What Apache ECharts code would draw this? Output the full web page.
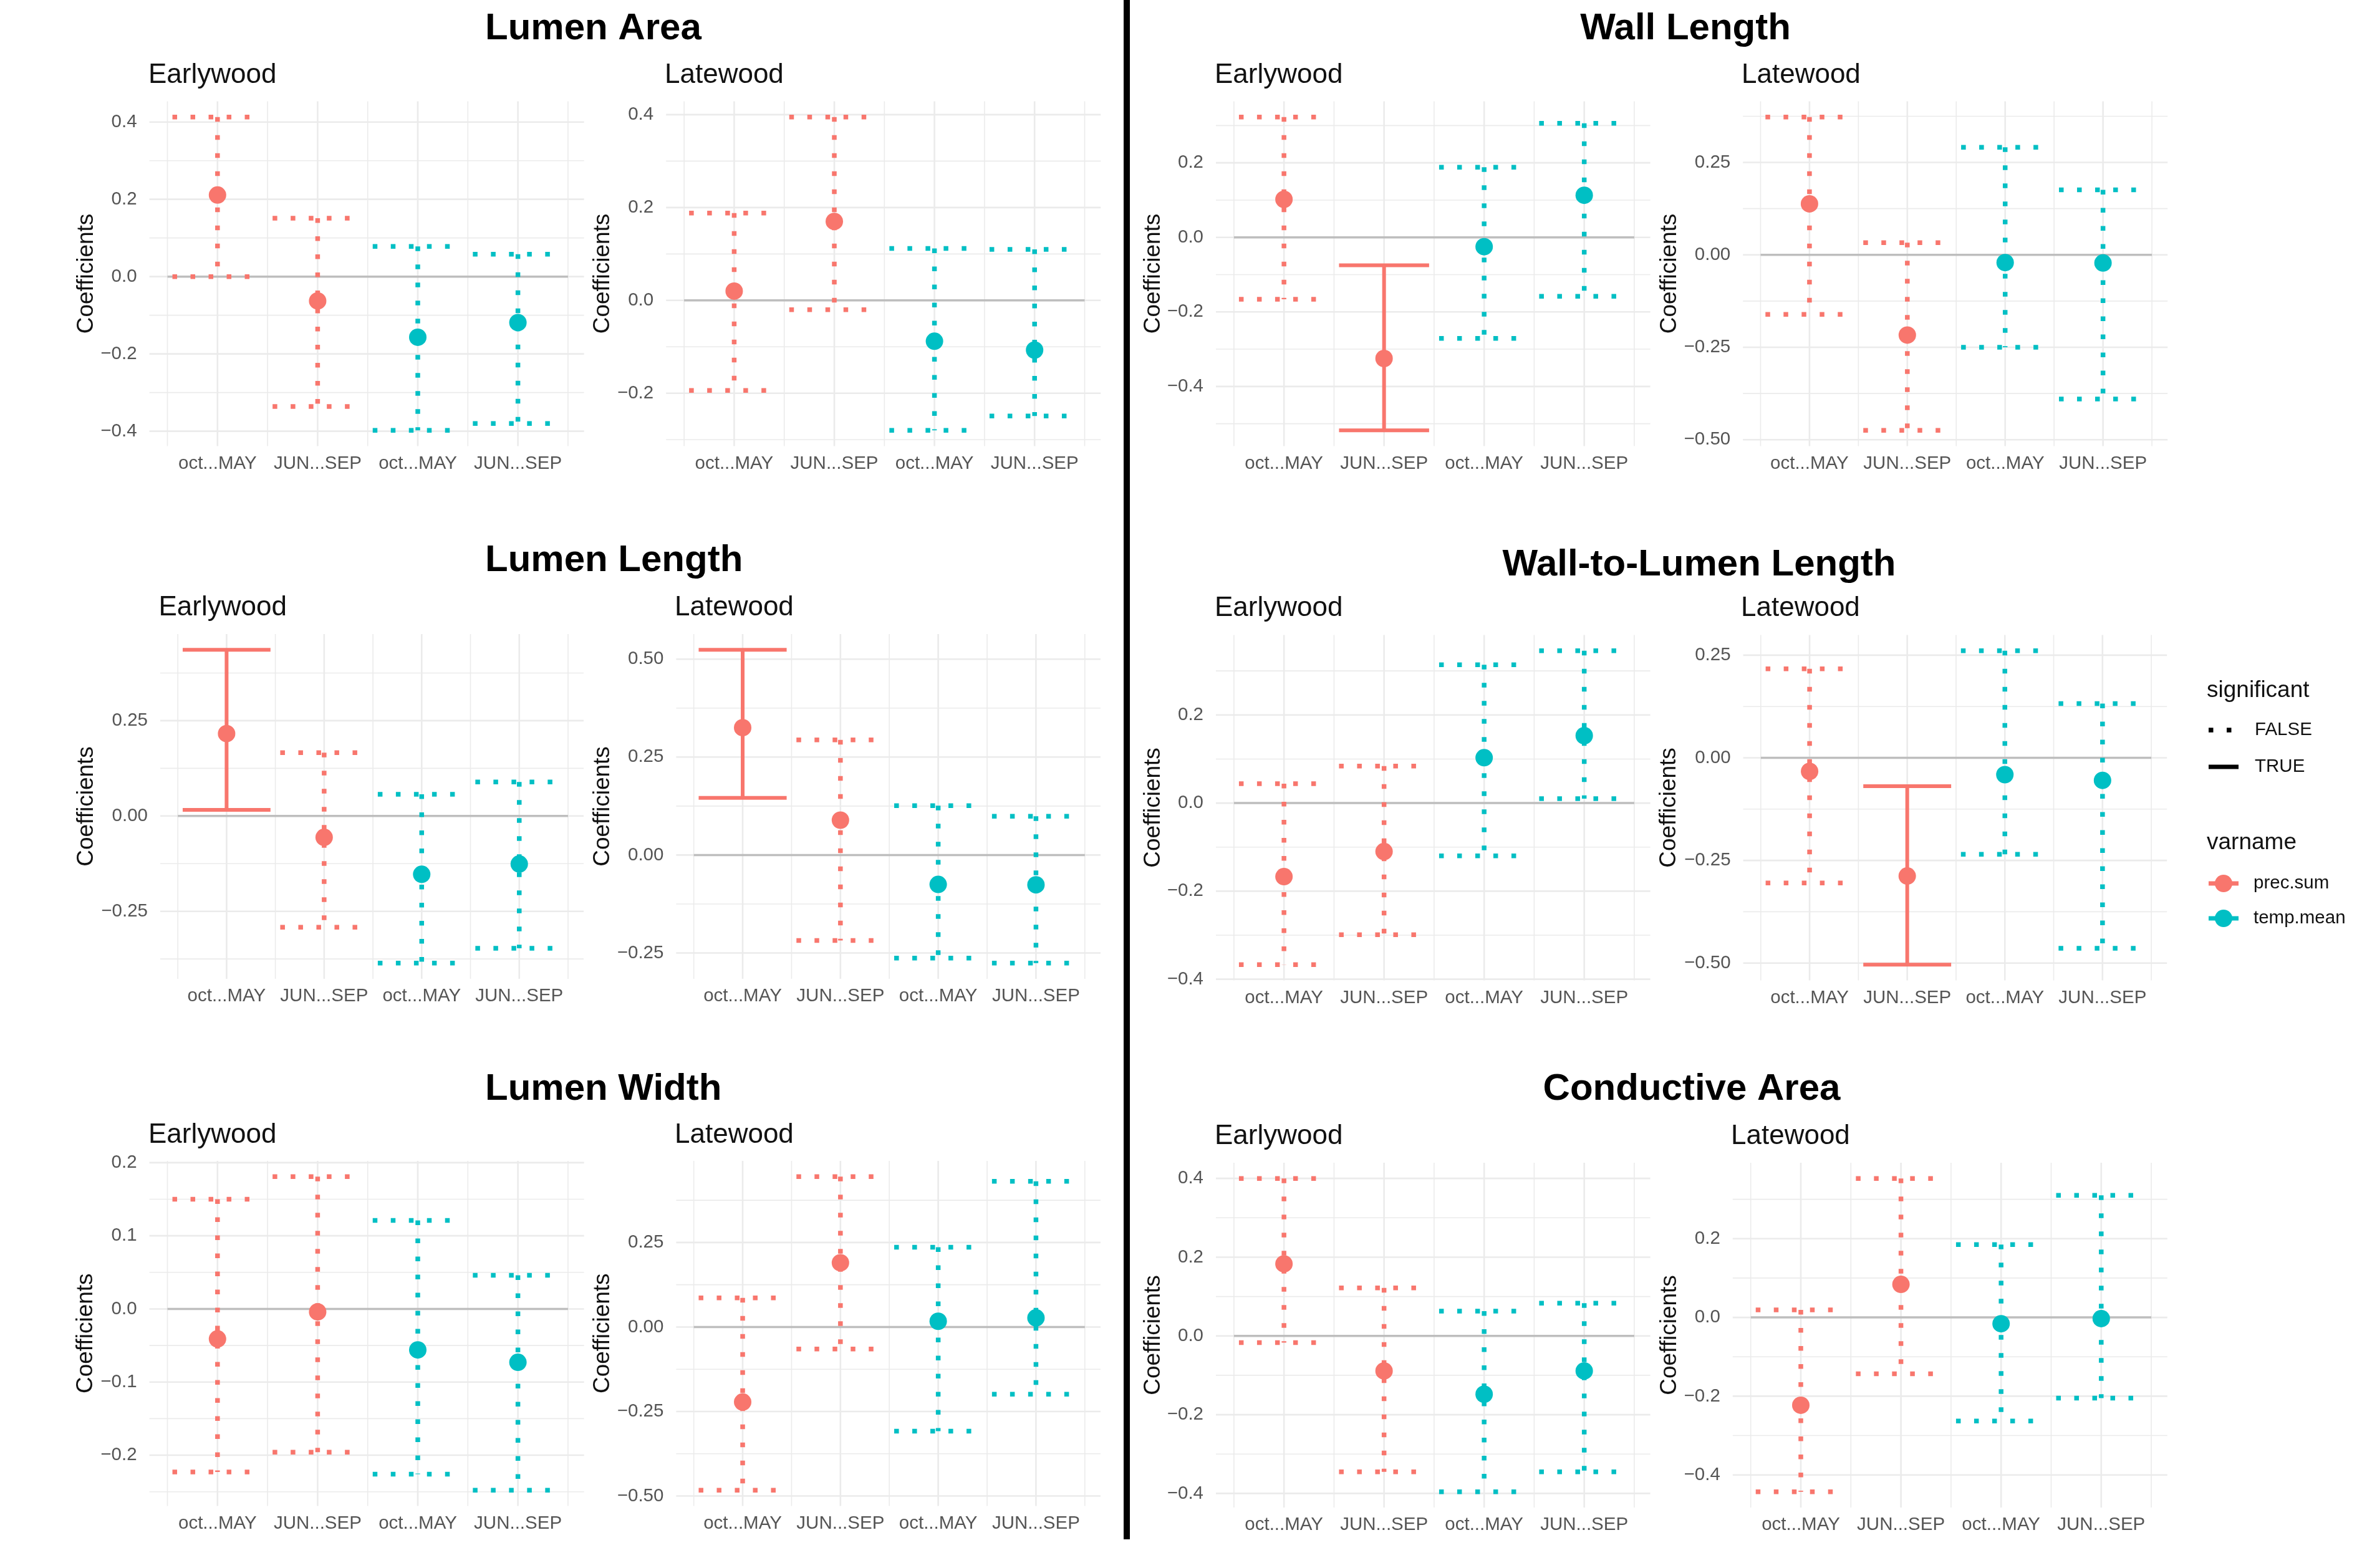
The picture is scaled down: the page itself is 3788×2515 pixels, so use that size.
<!DOCTYPE html>
<html>
<head>
<meta charset="utf-8">
<title>Climate coefficients</title>
<script src="https://cdn.jsdelivr.net/npm/echarts@6.0.0/dist/echarts.min.js"></script>
<style>
  html, body { margin: 0; padding: 0; background: #fff; }
  #main { width: 3788px; height: 2515px; }
</style>
</head>
<body>
<div id="main"></div>
<script>
// categories
const periods = ['oct...MAY', 'JUN...SEP', 'oct...MAY', 'JUN...SEP'];
const varname = ['prec.sum', 'prec.sum', 'temp.mean', 'temp.mean'];
const xPos = [1, 2, 3, 4];

// Lumen Area
const lumenAreaEW_est = [0.211, -0.063, -0.157, -0.119];
const lumenAreaEW_lo = [0.000, -0.336, -0.398, -0.380];
const lumenAreaEW_hi = [0.413, 0.151, 0.078, 0.058];
const lumenAreaEW_sig = [0, 0, 0, 0];
const lumenAreaEW_ticks = [-0.4, -0.2, 0, 0.2, 0.4];

const lumenAreaLW_est = [0.020, 0.170, -0.088, -0.107];
const lumenAreaLW_lo = [-0.194, -0.020, -0.280, -0.249];
const lumenAreaLW_hi = [0.188, 0.395, 0.112, 0.110];
const lumenAreaLW_sig = [0, 0, 0, 0];
const lumenAreaLW_ticks = [-0.2, 0, 0.2, 0.4];

// Wall Length
const wallLengthEW_est = [0.102, -0.325, -0.025, 0.113];
const wallLengthEW_lo = [-0.166, -0.518, -0.271, -0.158];
const wallLengthEW_hi = [0.323, -0.075, 0.188, 0.306];
const wallLengthEW_sig = [0, 1, 0, 0];
const wallLengthEW_ticks = [-0.4, -0.2, 0, 0.2];

const wallLengthLW_est = [0.138, -0.217, -0.021, -0.022];
const wallLengthLW_lo = [-0.161, -0.475, -0.250, -0.390];
const wallLengthLW_hi = [0.373, 0.033, 0.291, 0.176];
const wallLengthLW_sig = [0, 0, 0, 0];
const wallLengthLW_ticks = [-0.5, -0.25, 0, 0.25];

// Lumen Length
const lumenLengthEW_est = [0.216, -0.056, -0.153, -0.126];
const lumenLengthEW_lo = [0.016, -0.292, -0.386, -0.347];
const lumenLengthEW_hi = [0.436, 0.166, 0.057, 0.089];
const lumenLengthEW_sig = [1, 0, 0, 0];
const lumenLengthEW_ticks = [-0.25, 0, 0.25];

const lumenLengthLW_est = [0.325, 0.089, -0.075, -0.076];
const lumenLengthLW_lo = [0.146, -0.218, -0.263, -0.276];
const lumenLengthLW_hi = [0.524, 0.294, 0.126, 0.099];
const lumenLengthLW_sig = [1, 0, 0, 0];
const lumenLengthLW_ticks = [-0.25, 0, 0.25, 0.5];

// Wall-to-Lumen Length
const wallLumenEW_est = [-0.167, -0.110, 0.103, 0.153];
const wallLumenEW_lo = [-0.367, -0.299, -0.120, 0.010];
const wallLumenEW_hi = [0.044, 0.084, 0.314, 0.346];
const wallLumenEW_sig = [0, 0, 0, 0];
const wallLumenEW_ticks = [-0.4, -0.2, 0, 0.2];

const wallLumenLW_est = [-0.033, -0.288, -0.041, -0.055];
const wallLumenLW_lo = [-0.305, -0.504, -0.235, -0.464];
const wallLumenLW_hi = [0.217, -0.069, 0.261, 0.132];
const wallLumenLW_sig = [0, 1, 0, 0];
const wallLumenLW_ticks = [-0.5, -0.25, 0, 0.25];

// Lumen Width
const lumenWidthEW_est = [-0.041, -0.004, -0.056, -0.073];
const lumenWidthEW_lo = [-0.223, -0.196, -0.226, -0.248];
const lumenWidthEW_hi = [0.150, 0.181, 0.121, 0.046];
const lumenWidthEW_sig = [0, 0, 0, 0];
const lumenWidthEW_ticks = [-0.2, -0.1, 0, 0.1, 0.2];

const lumenWidthLW_est = [-0.222, 0.190, 0.017, 0.027];
const lumenWidthLW_lo = [-0.483, -0.065, -0.308, -0.199];
const lumenWidthLW_hi = [0.086, 0.445, 0.236, 0.431];
const lumenWidthLW_sig = [0, 0, 0, 0];
const lumenWidthLW_ticks = [-0.5, -0.25, 0, 0.25];

// Conductive Area
const condAreaEW_est = [0.183, -0.089, -0.148, -0.089];
const condAreaEW_lo = [-0.017, -0.345, -0.396, -0.345];
const condAreaEW_hi = [0.400, 0.122, 0.063, 0.083];
const condAreaEW_sig = [0, 0, 0, 0];
const condAreaEW_ticks = [-0.4, -0.2, 0, 0.2, 0.4];

const condAreaLW_est = [-0.223, 0.084, -0.016, -0.003];
const condAreaLW_lo = [-0.443, -0.143, -0.263, -0.205];
const condAreaLW_hi = [0.019, 0.353, 0.185, 0.310];
const condAreaLW_sig = [0, 0, 0, 0];
const condAreaLW_ticks = [-0.4, -0.2, 0, 0.2];

const groupTitles = ['Lumen Area', 'Wall Length', 'Lumen Length', 'Wall-to-Lumen Length', 'Lumen Width', 'Conductive Area'];

const panels = [
  { sub: 'Earlywood', est: lumenAreaEW_est, lo: lumenAreaEW_lo, hi: lumenAreaEW_hi, sig: lumenAreaEW_sig, ticks: lumenAreaEW_ticks },
  { sub: 'Latewood', est: lumenAreaLW_est, lo: lumenAreaLW_lo, hi: lumenAreaLW_hi, sig: lumenAreaLW_sig, ticks: lumenAreaLW_ticks },
  { sub: 'Earlywood', est: wallLengthEW_est, lo: wallLengthEW_lo, hi: wallLengthEW_hi, sig: wallLengthEW_sig, ticks: wallLengthEW_ticks },
  { sub: 'Latewood', est: wallLengthLW_est, lo: wallLengthLW_lo, hi: wallLengthLW_hi, sig: wallLengthLW_sig, ticks: wallLengthLW_ticks },
  { sub: 'Earlywood', est: lumenLengthEW_est, lo: lumenLengthEW_lo, hi: lumenLengthEW_hi, sig: lumenLengthEW_sig, ticks: lumenLengthEW_ticks },
  { sub: 'Latewood', est: lumenLengthLW_est, lo: lumenLengthLW_lo, hi: lumenLengthLW_hi, sig: lumenLengthLW_sig, ticks: lumenLengthLW_ticks },
  { sub: 'Earlywood', est: wallLumenEW_est, lo: wallLumenEW_lo, hi: wallLumenEW_hi, sig: wallLumenEW_sig, ticks: wallLumenEW_ticks },
  { sub: 'Latewood', est: wallLumenLW_est, lo: wallLumenLW_lo, hi: wallLumenLW_hi, sig: wallLumenLW_sig, ticks: wallLumenLW_ticks },
  { sub: 'Earlywood', est: lumenWidthEW_est, lo: lumenWidthEW_lo, hi: lumenWidthEW_hi, sig: lumenWidthEW_sig, ticks: lumenWidthEW_ticks },
  { sub: 'Latewood', est: lumenWidthLW_est, lo: lumenWidthLW_lo, hi: lumenWidthLW_hi, sig: lumenWidthLW_sig, ticks: lumenWidthLW_ticks },
  { sub: 'Earlywood', est: condAreaEW_est, lo: condAreaEW_lo, hi: condAreaEW_hi, sig: condAreaEW_sig, ticks: condAreaEW_ticks },
  { sub: 'Latewood', est: condAreaLW_est, lo: condAreaLW_lo, hi: condAreaLW_hi, sig: condAreaLW_sig, ticks: condAreaLW_ticks }
];

// layout: grid left, top, width, height, subtitle x, subtitle y, y-name x
const layout = [
  [239.6, 162.5, 697, 553, 238, 121, 139],
  [1068.2, 162.5, 697, 553, 1066, 121, 967],
  [1950, 162.5, 696.6, 553, 1948, 121, 1850],
  [2795.2, 162.5, 681, 553, 2793, 121, 2678],
  [257, 1017, 679, 553, 254.5, 975, 139],
  [1084.4, 1017, 680.5, 553, 1082, 975, 967],
  [1950, 1018.5, 696.6, 554, 1948, 976, 1850],
  [2795.6, 1018.5, 679.6, 554, 2792, 976, 2677],
  [239.6, 1862, 697, 553.5, 238, 1821, 138],
  [1084.4, 1862, 680.5, 553.5, 1082, 1821, 967],
  [1950, 1865, 696.6, 553, 1948, 1823, 1850],
  [2778.8, 1865, 697, 553, 2776, 1823, 2678]
];
// group title: x, y, align
const titleLayout = [
  [778, 46, 'left'], [2703, 46, 'center'],
  [778, 899, 'left'], [2725, 906, 'center'],
  [778, 1747, 'left'], [2713, 1747, 'center']
];

const FONT = "'Liberation Sans', Arial, Helvetica, sans-serif";
const COLORS = { 'prec.sum': '#F8766D', 'temp.mean': '#00BFC4' };
const X_MIN = 0.32, X_MAX = 4.66;
const CAP = 0.45;
const GRID_COL = '#EBEBEB';

function decimals(ticks) {
  return Math.max.apply(null, ticks.map(t => {
    const s = String(t);
    return s.indexOf('.') >= 0 ? s.split('.')[1].length : 0;
  }));
}
function fmt(v, d) {
  const s = Math.abs(v).toFixed(d);
  return (v < -1e-9 ? '\u2212' : '') + s;
}

function renderGridLine(params, api) {
  const cs = params.coordSys;
  const kind = api.value(0), v = api.value(1), major = api.value(2);
  let shape;
  if (kind === 0) {
    const y = api.coord([X_MIN, v])[1];
    shape = { x1: cs.x, y1: y, x2: cs.x + cs.width, y2: y };
  } else {
    const x = api.coord([v, 0])[0];
    shape = { x1: x, y1: cs.y, x2: x, y2: cs.y + cs.height };
  }
  return { type: 'line', shape: shape, silent: true,
    style: { stroke: GRID_COL, lineWidth: major ? 2.6 : 1.6 } };
}

function renderZero(params, api) {
  const a = api.coord([api.value(0), api.value(1)]);
  const b = api.coord([api.value(2), api.value(1)]);
  return { type: 'line', shape: { x1: a[0], y1: a[1], x2: b[0], y2: b[1] },
    style: { stroke: '#BEBEBE', lineWidth: 3.5 } };
}

const colorList = varname.map(v => COLORS[v]);
function renderErr(params, api) {
  const x = api.value(0), lo = api.value(1), hi = api.value(2);
  const sig = api.value(3), ci = api.value(4);
  const t1 = api.coord([x - CAP, hi]), t2 = api.coord([x + CAP, hi]);
  const v1 = api.coord([x, hi]), v2 = api.coord([x, lo]);
  const b1 = api.coord([x - CAP, lo]), b2 = api.coord([x + CAP, lo]);
  const style = { stroke: colorList[ci], lineWidth: sig ? 6 : 7.5, lineCap: 'butt',
    lineDash: sig ? null : [7.5, 21.5] };
  return { type: 'group', children: [
    { type: 'line', shape: { x1: t1[0], y1: t1[1], x2: t2[0], y2: t2[1] }, style: style },
    { type: 'line', shape: { x1: v1[0], y1: v1[1], x2: v2[0], y2: v2[1] }, style: style },
    { type: 'line', shape: { x1: b1[0], y1: b1[1], x2: b2[0], y2: b2[1] }, style: style }
  ] };
}

const option = {
  animation: false,
  backgroundColor: '#ffffff',
  textStyle: { fontFamily: FONT },
  grid: [], xAxis: [], yAxis: [], series: [], graphic: []
};

panels.forEach((p, i) => {
  const L = layout[i];
  const lowAll = Math.min.apply(null, p.lo.concat(p.est));
  const highAll = Math.max.apply(null, p.hi.concat(p.est));
  const pad = (highAll - lowAll) * 0.05;
  const yMin = lowAll - pad, yMax = highAll + pad;
  const dec = decimals(p.ticks);
  const step = p.ticks[1] - p.ticks[0];

  option.grid.push({ left: L[0], top: L[1], width: L[2], height: L[3],
    containLabel: false, outerBoundsMode: 'none' });
  option.xAxis.push({
    type: 'value', gridIndex: i, min: X_MIN, max: X_MAX,
    axisLine: { show: false }, axisTick: { show: false }, splitLine: { show: false },
    axisLabel: { customValues: xPos, formatter: v => periods[Math.round(v) - 1],
      fontSize: 29.5, color: '#555555', margin: 13, fontFamily: FONT }
  });
  option.yAxis.push({
    type: 'value', gridIndex: i, min: yMin, max: yMax,
    axisLine: { show: false }, axisTick: { show: false }, splitLine: { show: false },
    axisLabel: { customValues: p.ticks, formatter: v => fmt(v, dec),
      fontSize: 29.5, color: '#555555', margin: 20, fontFamily: FONT }
  });

  // background grid lines (major at breaks, minor half-way)
  const lines = [];
  p.ticks.forEach(t => lines.push([0, t, 1]));
  for (let k = -1; k < p.ticks.length; k++) {
    const m = p.ticks[0] + (k + 0.5) * step;
    if (m > yMin && m < yMax) lines.push([0, m, 0]);
  }
  xPos.forEach(x => lines.push([1, x, 1]));
  for (let k = 0; k <= xPos.length; k++) lines.push([1, k + 0.5, 0]);
  option.series.push({ type: 'custom', xAxisIndex: i, yAxisIndex: i, z: 1, silent: true,
    renderItem: renderGridLine, data: lines });

  option.series.push({ type: 'custom', xAxisIndex: i, yAxisIndex: i, z: 2, silent: true,
    renderItem: renderZero, data: [[0.5, 0, 4.5]] });

  option.series.push({ type: 'custom', xAxisIndex: i, yAxisIndex: i, z: 3, silent: true,
    renderItem: renderErr,
    data: xPos.map((x, k) => [x, p.lo[k], p.hi[k], p.sig[k], k]) });

  option.series.push({ type: 'scatter', xAxisIndex: i, yAxisIndex: i, z: 4, silent: true,
    symbol: 'circle', symbolSize: 28,
    data: xPos.map((x, k) => ({ value: [x, p.est[k]], itemStyle: { color: COLORS[varname[k]], opacity: 1 } })) });

  option.graphic.push({ type: 'text', x: L[4], y: L[5], silent: true,
    style: { text: p.sub, fontSize: 44, fontFamily: FONT, fill: '#111',
      align: 'left', verticalAlign: 'middle', textAlign: 'left', textVerticalAlign: 'middle' } });
  option.graphic.push({ type: 'text', x: L[6], y: L[1] + L[3] / 2, rotation: Math.PI / 2, silent: true,
    style: { text: 'Coefficients', fontSize: 37, fontFamily: FONT, fill: '#111',
      align: 'center', verticalAlign: 'middle', textAlign: 'center', textVerticalAlign: 'middle' } });
});

groupTitles.forEach((t, i) => {
  const T = titleLayout[i];
  option.graphic.push({ type: 'text', x: T[0], y: T[1], silent: true,
    style: { text: t, fontSize: 60, fontWeight: 'bold', fontFamily: FONT, fill: '#000',
      align: T[2], verticalAlign: 'middle', textAlign: T[2], textVerticalAlign: 'middle' } });
});

// divider between the two halves
option.graphic.push({ type: 'rect', silent: true,
  shape: { x: 1802, y: 0, width: 10, height: 2469 }, style: { fill: '#000' } });

// legend
const legendText = (text, x, y, size) => ({ type: 'text', x: x, y: y, silent: true,
  style: { text: text, fontSize: size, fontFamily: FONT, fill: '#111',
    align: 'left', verticalAlign: 'middle', textAlign: 'left', textVerticalAlign: 'middle' } });
option.graphic.push(legendText('significant', 3539, 1108, 37));
option.graphic.push({ type: 'line', silent: true, shape: { x1: 3542, y1: 1171, x2: 3590, y2: 1171 },
  style: { stroke: '#000', lineWidth: 7.5, lineDash: [7.5, 21.5] } });
option.graphic.push(legendText('FALSE', 3616, 1171, 29.5));
option.graphic.push({ type: 'line', silent: true, shape: { x1: 3542, y1: 1230, x2: 3590, y2: 1230 },
  style: { stroke: '#000', lineWidth: 7 } });
option.graphic.push(legendText('TRUE', 3616, 1230, 29.5));
option.graphic.push(legendText('varname', 3539, 1352, 37));
['prec.sum', 'temp.mean'].forEach((v, k) => {
  const y = 1417 + k * 56;
  option.graphic.push({ type: 'line', silent: true, shape: { x1: 3542, y1: y, x2: 3590, y2: y },
    style: { stroke: COLORS[v], lineWidth: 7 } });
  option.graphic.push({ type: 'circle', silent: true, shape: { cx: 3566, cy: y, r: 14 },
    style: { fill: COLORS[v] } });
  option.graphic.push(legendText(v, 3614, y, 29.5));
});

const chart = echarts.init(document.getElementById('main'), null, { renderer: 'canvas' });
chart.setOption(option);
</script>
</body>
</html>
